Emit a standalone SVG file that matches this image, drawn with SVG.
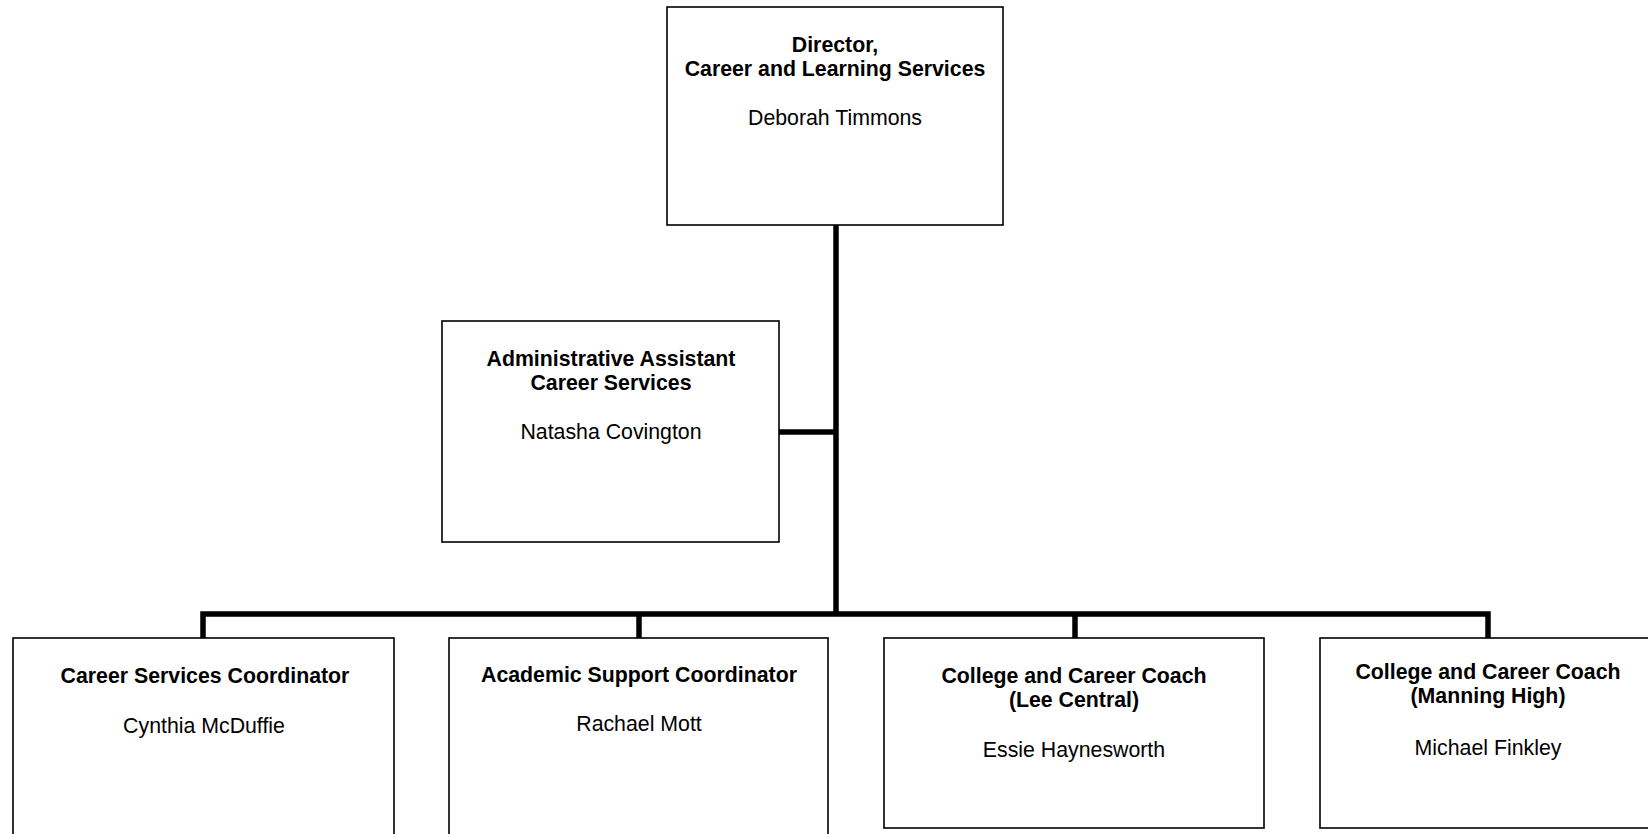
<svg xmlns="http://www.w3.org/2000/svg" width="1648" height="834" viewBox="0 0 1648 834">
<style>
.box{fill:#fff;stroke:#000;stroke-width:1.6}
.t{font-family:"Liberation Sans",Arial,sans-serif;font-size:21.3px;fill:#000;text-anchor:middle}
.b{font-weight:bold}
.c{fill:none;stroke:#000;stroke-width:5.5;stroke-linecap:butt;stroke-linejoin:miter}
</style>
<rect width="1648" height="834" fill="#fff"/>
<g id="connectors">
<path class="c" d="M836,225 V614"/>
<path class="c" d="M779,432 H836"/>
<path class="c" d="M203,638 V614 H1488 V638"/>
<path class="c" d="M639,614 V638"/>
<path class="c" d="M1075,614 V638"/>
</g>
<g id="director">
<rect class="box" x="667" y="7" width="336" height="218"/>
<text class="t b" x="835" y="52">Director,</text>
<text class="t b" x="835" y="76">Career and Learning Services</text>
<text class="t" x="835" y="125">Deborah Timmons</text>
</g>
<g id="admin">
<rect class="box" x="442" y="321" width="337" height="221"/>
<text class="t b" x="611" y="366">Administrative Assistant</text>
<text class="t b" x="611" y="390">Career Services</text>
<text class="t" x="611" y="439">Natasha Covington</text>
</g>
<g id="career-services">
<rect class="box" x="13" y="638" width="381" height="220"/>
<text class="t b" x="205" y="683">Career Services Coordinator</text>
<text class="t" x="204" y="733">Cynthia McDuffie</text>
</g>
<g id="academic-support">
<rect class="box" x="449" y="638" width="379" height="220"/>
<text class="t b" x="639" y="682">Academic Support Coordinator</text>
<text class="t" x="639" y="731">Rachael Mott</text>
</g>
<g id="coach-lee">
<rect class="box" x="884" y="638" width="380" height="190"/>
<text class="t b" x="1074" y="683">College and Career Coach</text>
<text class="t b" x="1074" y="707">(Lee Central)</text>
<text class="t" x="1074" y="757">Essie Haynesworth</text>
</g>
<g id="coach-manning">
<rect class="box" x="1320" y="638" width="360" height="190"/>
<text class="t b" x="1488" y="679">College and Career Coach</text>
<text class="t b" x="1488" y="703">(Manning High)</text>
<text class="t" x="1488" y="755">Michael Finkley</text>
</g>
</svg>
